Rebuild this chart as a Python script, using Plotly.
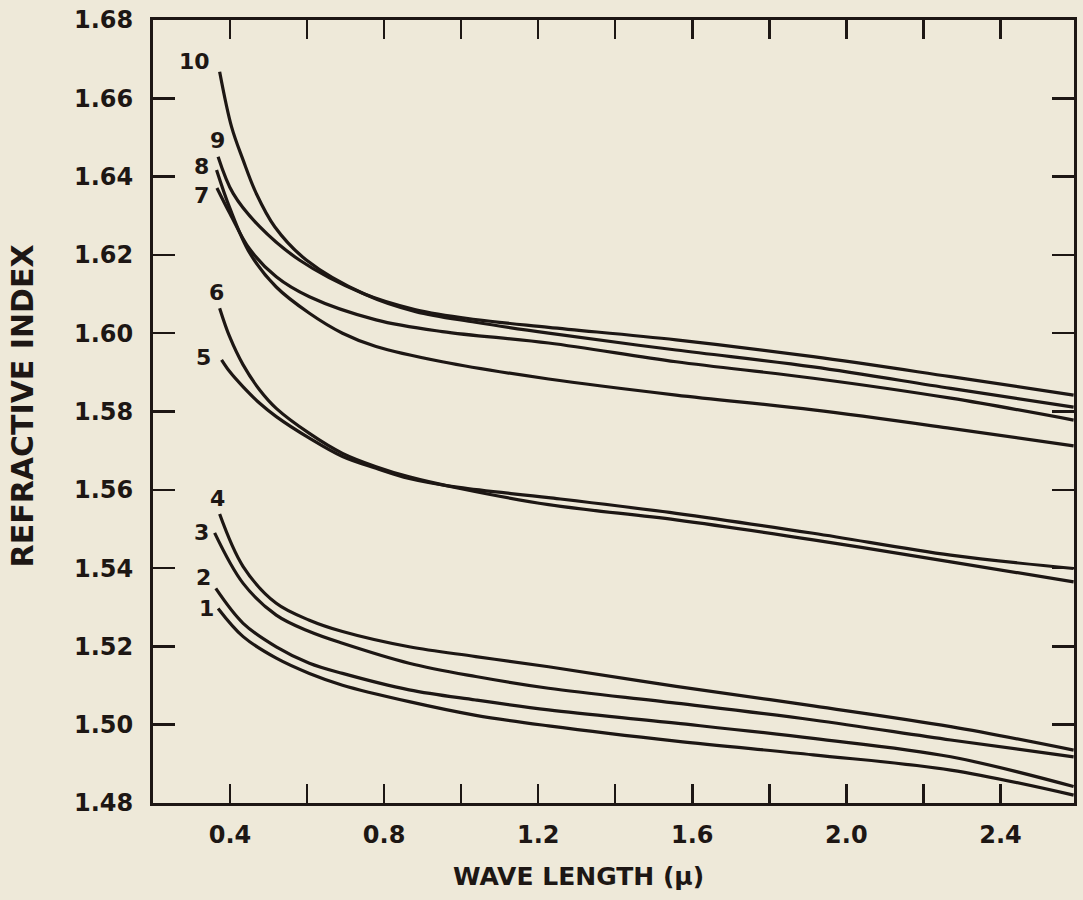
import plotly.graph_objects as go

# ---- data (wavelength in microns, refractive index) ----
wl_1 = [0.369, 0.434, 0.520, 0.606, 0.692, 0.865, 1.038, 1.227, 1.558, 1.914, 2.271, 2.590]
n_1 = [1.5297, 1.5225, 1.5170, 1.5131, 1.5101, 1.5059, 1.5024, 1.4997, 1.4958, 1.4923, 1.4884, 1.4820]

wl_2 = [0.363, 0.434, 0.520, 0.606, 0.692, 0.865, 1.038, 1.227, 1.558, 1.914, 2.271, 2.590]
n_2 = [1.5348, 1.5259, 1.5199, 1.5157, 1.5131, 1.5089, 1.5063, 1.5038, 1.5004, 1.4965, 1.4918, 1.4842]

wl_3 = [0.360, 0.434, 0.520, 0.606, 0.692, 0.865, 1.038, 1.227, 1.558, 1.914, 2.271, 2.590]
n_3 = [1.5490, 1.5361, 1.5280, 1.5238, 1.5208, 1.5157, 1.5123, 1.5093, 1.5055, 1.5012, 1.4961, 1.4918]

wl_4 = [0.373, 0.434, 0.520, 0.606, 0.692, 0.865, 1.038, 1.227, 1.558, 1.914, 2.271, 2.590]
n_4 = [1.5538, 1.5404, 1.5310, 1.5267, 1.5238, 1.5199, 1.5174, 1.5148, 1.5098, 1.5048, 1.4995, 1.4935]

wl_5 = [0.378, 0.399, 0.434, 0.477, 0.520, 0.606, 0.692, 0.779, 0.865, 0.994, 1.227, 1.558, 1.914, 2.271, 2.590]
n_5 = [1.5932, 1.5902, 1.5863, 1.5821, 1.5787, 1.5732, 1.5685, 1.5655, 1.5629, 1.5606, 1.5580, 1.5540, 1.5489, 1.5433, 1.5399]

wl_6 = [0.373, 0.399, 0.434, 0.477, 0.520, 0.606, 0.692, 0.779, 0.865, 0.994, 1.227, 1.558, 1.914, 2.271, 2.590]
n_6 = [1.6064, 1.5991, 1.5919, 1.5855, 1.5808, 1.5744, 1.5693, 1.5659, 1.5633, 1.5604, 1.5562, 1.5523, 1.5472, 1.5416, 1.5365]

wl_7 = [0.366, 0.400, 0.451, 0.520, 0.606, 0.779, 0.951, 1.227, 1.558, 1.914, 2.271, 2.590]
n_7 = [1.6371, 1.6305, 1.6215, 1.6144, 1.6093, 1.6034, 1.6004, 1.5975, 1.5927, 1.5885, 1.5834, 1.5778]

wl_8 = [0.365, 0.400, 0.451, 0.520, 0.606, 0.692, 0.779, 0.951, 1.227, 1.558, 1.914, 2.271, 2.590]
n_8 = [1.6417, 1.6318, 1.6205, 1.6118, 1.6051, 1.6000, 1.5966, 1.5927, 1.5883, 1.5842, 1.5804, 1.5757, 1.5712]

wl_9 = [0.369, 0.408, 0.477, 0.580, 0.744, 0.882, 1.037, 1.227, 1.558, 1.914, 2.271, 2.590]
n_9 = [1.6451, 1.6357, 1.6272, 1.6187, 1.6102, 1.6060, 1.6035, 1.6015, 1.5983, 1.5940, 1.5889, 1.5842]

wl_10 = [0.373, 0.404, 0.434, 0.468, 0.516, 0.598, 0.753, 0.882, 1.037, 1.227, 1.558, 1.914, 2.271, 2.590]
n_10 = [1.6668, 1.6527, 1.6442, 1.6357, 1.6272, 1.6187, 1.6098, 1.6055, 1.6028, 1.6000, 1.5957, 1.5914, 1.5859, 1.5811]

curve_names = ["1", "2", "3", "4", "5", "6", "7", "8", "9", "10"]
label_wl = [0.340, 0.330, 0.327, 0.368, 0.332, 0.366, 0.327, 0.327, 0.368, 0.309]
label_n = [1.5298, 1.5377, 1.5490, 1.5579, 1.5939, 1.6103, 1.6353, 1.6425, 1.6493, 1.6693]

x_tick_vals = [0.4, 0.6, 0.8, 1.0, 1.2, 1.4, 1.6, 1.8, 2.0, 2.2, 2.4]
x_tick_text = ["0.4", "", "0.8", "", "1.2", "", "1.6", "", "2.0", "", "2.4"]
y_tick_vals = [1.48, 1.50, 1.52, 1.54, 1.56, 1.58, 1.60, 1.62, 1.64, 1.66, 1.68]
y_tick_text = ["1.48", "1.50", "1.52", "1.54", "1.56", "1.58", "1.60", "1.62", "1.64", "1.66", "1.68"]

x_title = "WAVE LENGTH (μ)"
y_title = "REFRACTIVE INDEX"

# ---- styling ----
INK = "#1d1714"
BG = "#EEE9D9"
FONT = "DejaVu Sans"

all_wl = [wl_1, wl_2, wl_3, wl_4, wl_5, wl_6, wl_7, wl_8, wl_9, wl_10]
all_n = [n_1, n_2, n_3, n_4, n_5, n_6, n_7, n_8, n_9, n_10]

fig = go.Figure()
for name, xs, ys in zip(curve_names, all_wl, all_n):
    fig.add_trace(go.Scatter(
        x=xs, y=ys, mode="lines", name=name,
        line=dict(color=INK, width=3.2, shape="spline", smoothing=1.0),
        showlegend=False, hoverinfo="skip",
    ))

for name, lx, ly in zip(curve_names, label_wl, label_n):
    fig.add_annotation(x=lx, y=ly, xref="x", yref="y", text=name, showarrow=False,
                       font=dict(family=FONT, size=22, color=INK, weight="bold"),
                       xanchor="center", yanchor="middle")

# axis titles as annotations for exact placement
fig.add_annotation(x=0.462, y=-0.0945, xref="paper", yref="paper", text=x_title,
                   showarrow=False, xanchor="center", yanchor="middle",
                   font=dict(family=FONT, size=25, color=INK, weight="bold"))
fig.add_annotation(x=-0.1418, y=0.507, xref="paper", yref="paper", text=y_title,
                   showarrow=False, xanchor="center", yanchor="middle", textangle=-90,
                   font=dict(family=FONT, size=30, color=INK, weight="bold"))

fig.update_xaxes(
    range=[0.2, 2.591], tickvals=x_tick_vals, ticktext=x_tick_text,
    ticks="inside", ticklen=19, tickwidth=2.5, tickcolor=INK,
    showline=True, linecolor=INK, linewidth=3, mirror="ticks",
    showgrid=False, zeroline=False, ticklabelstandoff=8,
    tickfont=dict(family=FONT, size=24, color=INK, weight="bold"),
)
fig.update_yaxes(
    range=[1.48, 1.68], tickvals=y_tick_vals, ticktext=y_tick_text,
    ticks="inside", ticklen=22, tickwidth=2.5, tickcolor=INK,
    showline=True, linecolor=INK, linewidth=3, mirror="ticks",
    showgrid=False, zeroline=False, ticklabelstandoff=12,
    tickfont=dict(family=FONT, size=24, color=INK, weight="bold"),
)

fig.update_layout(
    width=1083, height=900,
    margin=dict(l=153, r=6, t=20, b=97),
    paper_bgcolor=BG, plot_bgcolor=BG,
    showlegend=False,
)

fig.write_html(
    "out.html",
    config={"displayModeBar": False, "staticPlot": True},
    post_script="document.body.style.margin='0';document.body.style.background='" + BG + "';",
)
